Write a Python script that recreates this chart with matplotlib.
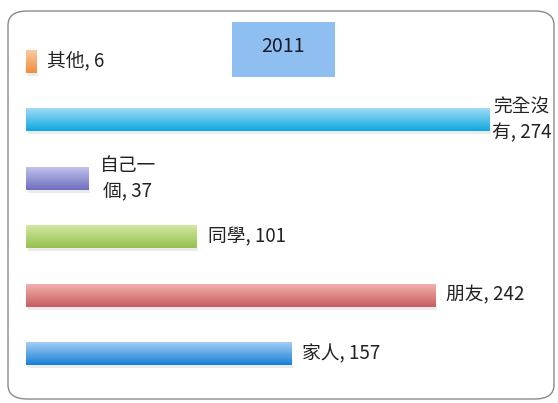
import matplotlib
matplotlib.use('Agg')
import matplotlib.pyplot as plt
import numpy as np
from matplotlib.colors import LinearSegmentedColormap
from matplotlib.patches import FancyBboxPatch, Rectangle

plt.rcParams['font.family'] = ['Noto Sans CJK TC', 'DejaVu Sans']

# data, bottom to top
categories = ['家人', '朋友', '同學', '自己一個', '完全沒有', '其他']
labels = ['家人, 157', '朋友, 242', '同學, 101', '自己一\n個, 37', '完全沒\n有, 274', '其他, 6']
values = [157, 242, 101, 37, 274, 6]
title = '2011'

# light top / dark bottom for each bar
tops = ['#abd0f6', '#f6b3b3', '#d3eaa6', '#c4c4ee', '#a6def6', '#f9cca6']
bottoms = ['#1880d8', '#c65e5e', '#96c04e', '#6e6ebe', '#0ea8e0', '#f08e3a']

fig = plt.figure(figsize=(5.58, 4.03), dpi=100)
fig.patch.set_facecolor('white')

# rounded border
border = FancyBboxPatch((8 / 558, 4 / 403), 546 / 558, 388 / 403,
                        boxstyle='round,pad=0,rounding_size=0.035',
                        transform=fig.transFigure, facecolor='none',
                        edgecolor='#8a8a8a', linewidth=1.0, zorder=-1)
fig.patches.append(border)

ax = fig.add_axes([26 / 558, 0.035, 524 / 558, 0.90])
ax.set_xlim(0, 310)
ax.set_ylim(-0.6, 5.6)
ax.axis('off')

y = np.arange(len(values))
bars = ax.barh(y, values, height=0.40, color='none', edgecolor='none')

grad = np.linspace(0, 1, 64).reshape(-1, 1)
for i, b in enumerate(bars):
    cmap = LinearSegmentedColormap.from_list('g%d' % i, [tops[i], bottoms[i]])
    x0, y0 = b.get_x(), b.get_y()
    w, h = b.get_width(), b.get_height()
    im = ax.imshow(grad, cmap=cmap, aspect='auto', extent=(x0, x0 + w, y0, y0 + h),
                   origin='upper', zorder=2, interpolation='bicubic')
    im.set_clip_path(b)
    # soft shadow under the bar
    ax.add_patch(Rectangle((x0 + 1, y0 - 0.05), w, 0.05, facecolor='#000000',
                           alpha=0.08, edgecolor='none', zorder=1))

ax.set_xlim(0, 310)
ax.set_ylim(-0.6, 5.6)

for i, v in enumerate(values):
    off = 2 if v == max(values) else 8
    ax.annotate(labels[i], (v, y[i]), xytext=(off, 0), textcoords='offset points',
                ha='left', va='center', fontsize=13.5, color='#222222',
                multialignment='center', linespacing=1.3)

# title box
fig.patches.append(Rectangle((232 / 558, (403 - 77) / 403), 103 / 558, 55 / 403,
                             transform=fig.transFigure, facecolor='#8fbef0',
                             edgecolor='none', zorder=-1))
fig.text(283 / 558, 1 - 47 / 403, title, ha='center', va='center',
         fontsize=14, color='#1a1a2a')

fig.savefig('out.png', dpi=100)
